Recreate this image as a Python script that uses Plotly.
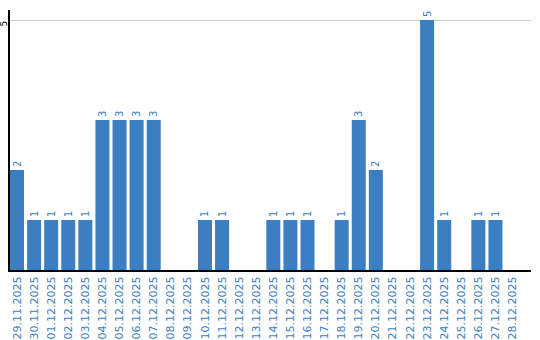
import plotly.graph_objects as go

dates = ["29.11.2025", "30.11.2025", "01.12.2025", "02.12.2025", "03.12.2025",
         "04.12.2025", "05.12.2025", "06.12.2025", "07.12.2025", "08.12.2025",
         "09.12.2025", "10.12.2025", "11.12.2025", "12.12.2025", "13.12.2025",
         "14.12.2025", "15.12.2025", "16.12.2025", "17.12.2025", "18.12.2025",
         "19.12.2025", "20.12.2025", "21.12.2025", "22.12.2025", "23.12.2025",
         "24.12.2025", "25.12.2025", "26.12.2025", "27.12.2025", "28.12.2025"]
counts = [2, 1, 1, 1, 1, 3, 3, 3, 3, 0,
          0, 1, 1, 0, 0, 1, 1, 1, 0, 1,
          3, 2, 0, 0, 5, 1, 0, 1, 1, 0]

blue = "#3b7ec2"
labels = [str(v) if v else "" for v in counts]

fig = go.Figure(go.Bar(
    x=dates, y=counts, text=labels, textposition="outside", textangle=-90,
    cliponaxis=False,
    textfont=dict(family="DejaVu Sans", size=10, color=blue),
    marker=dict(color=blue, line=dict(width=0)),
))
fig.update_layout(
    width=540, height=340, margin=dict(l=10, r=9, t=10, b=70),
    paper_bgcolor="white", plot_bgcolor="white", showlegend=False,
    bargap=0.18, uniformtext=dict(minsize=10, mode="show"),
    font=dict(family="DejaVu Sans", size=11),
)
fig.update_xaxes(type="category", range=[-0.41, 30.08], tickangle=-90,
                 tickfont=dict(family="DejaVu Sans", size=11, color=blue),
                 showline=True, linecolor="black", linewidth=2, ticks="",
                 showgrid=False, automargin=False, ticklabelstandoff=0)
fig.update_yaxes(range=[0, 5.2], tickvals=[5], ticktext=["5"], tickangle=-90,
                 tickfont=dict(family="DejaVu Sans", size=9, color="black"),
                 showline=True, linecolor="black", linewidth=2,
                 showgrid=True, gridcolor="#cccccc", gridwidth=1, zeroline=False,
                 ticks="", automargin=False, ticklabelstandoff=-3,
                 ticklabelshift=5)
fig.write_html("out.html")
